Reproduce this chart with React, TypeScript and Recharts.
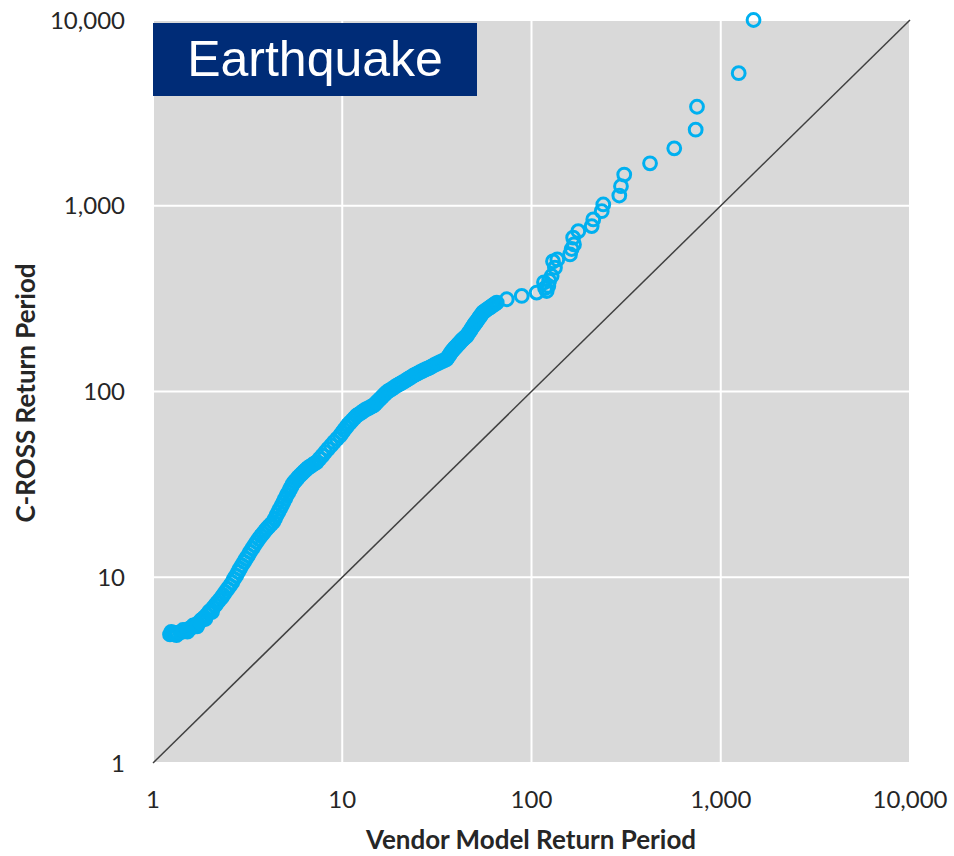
import React from "react";
import {
  CartesianGrid,
  Label,
  ReferenceLine,
  Scatter,
  ScatterChart,
  XAxis,
  YAxis,
} from "recharts";

const axisTicks = [1, 10, 100, 1000, 10000];

// [vendor model return period, C-ROSS return period]
const bandPoints: [number, number][] = [
  [1.23, 4.92], [1.26, 4.99], [1.29, 4.95], [1.32, 5.02], [1.35, 4.98], [1.39, 5.05],
  [1.42, 5.1], [1.46, 5.12], [1.5, 5.2], [1.54, 5.26], [1.57, 5.31], [1.61, 5.38],
  [1.65, 5.47], [1.69, 5.55], [1.73, 5.65], [1.77, 5.78], [1.82, 5.93], [1.87, 6.08],
  [1.92, 6.25], [1.97, 6.45], [2.02, 6.62], [2.07, 6.83], [2.13, 7.05], [2.18, 7.28],
  [2.24, 7.52], [2.3, 7.76], [2.35, 8.01], [2.41, 8.32], [2.48, 8.66], [2.55, 9.0],
  [2.62, 9.37], [2.68, 9.8], [2.75, 10.2], [2.82, 10.7], [2.88, 11.14], [2.95, 11.6],
  [3.03, 12.1], [3.1, 12.6], [3.18, 13.1], [3.26, 13.7], [3.35, 14.3], [3.44, 14.9],
  [3.53, 15.5], [3.62, 16.1], [3.72, 16.7], [3.81, 17.2], [3.91, 17.8], [4.0, 18.3],
  [4.1, 18.8], [4.21, 19.3], [4.32, 19.85], [4.41, 20.7], [4.5, 21.6], [4.6, 22.5],
  [4.69, 23.4], [4.79, 24.4], [4.89, 25.4], [4.99, 26.5], [5.09, 27.6], [5.19, 28.6],
  [5.29, 29.7], [5.39, 30.8], [5.49, 31.9], [5.61, 32.8], [5.73, 33.6], [5.85, 34.5],
  [5.98, 35.3], [6.13, 36.2], [6.28, 37.1], [6.43, 37.9], [6.59, 38.8], [6.77, 39.5],
  [6.95, 40.2], [7.14, 41.0], [7.33, 41.7], [7.58, 43.4], [7.85, 45.2], [8.12, 47.1],
  [8.41, 49.1], [8.72, 51.2], [9.04, 53.4], [9.38, 55.6], [9.73, 57.9], [9.97, 59.9],
  [10.22, 61.9], [10.47, 64.0], [10.72, 66.1], [11.0, 68.0], [11.3, 70.0], [11.6, 72.0],
  [11.92, 74.1], [12.2, 75.4], [12.55, 76.8], [12.85, 78.2], [13.19, 79.6], [13.5, 80.6],
  [13.85, 81.7], [14.2, 82.8], [14.6, 83.9], [14.9, 85.6], [15.2, 87.4], [15.5, 89.2],
  [15.83, 91.1], [16.2, 93.1], [16.5, 95.2], [16.9, 97.3], [17.24, 99.4], [17.75, 101.4],
  [18.3, 103.4], [18.85, 105.4], [19.4, 107.5], [19.9, 109.1], [20.4, 110.7], [20.9, 112.3],
  [21.46, 113.9], [22.0, 115.8], [22.5, 117.7], [23.1, 119.6], [23.7, 121.6], [24.3, 123.3],
  [25.0, 125.1], [25.7, 127.0], [26.4, 128.8], [27.0, 130.3], [27.7, 131.8], [28.4, 133.3],
  [29.1, 134.9], [29.8, 136.7], [30.5, 138.5], [31.3, 140.3], [32.1, 142.2], [32.9, 143.9],
  [33.8, 145.7], [34.7, 147.5], [35.6, 149.4], [36.2, 153], [36.8, 157], [37.4, 161],
  [38.0, 165], [38.6, 167.7], [39.1, 170.5], [39.7, 173.3], [40.3, 176.2], [40.9, 179.2],
  [41.6, 182.3], [42.2, 185.6], [42.9, 189], [43.5, 191.5], [44.2, 194.1], [44.8, 196.7],
  [45.5, 199.3], [46.4, 205.6], [47.4, 212.1], [48.3, 218.8], [49.3, 225.6], [50.0, 230.3],
  [50.7, 235.1], [51.5, 240], [52.2, 245], [53.0, 250.4], [53.8, 255.8], [54.6, 261.4],
  [55.4, 267], [56.6, 271.1], [57.8, 275.4], [59.1, 279.7], [60.4, 284], [61.6, 288.1],
  [62.9, 292.3], [64.2, 296.6], [65.5, 301],
];

// a few points just off the band at its low end, where it is widest
const bandSpread: [number, number][] = [
  [1.25, 5.08], [1.33, 4.88], [1.44, 5.2], [1.52, 5.1], [1.63, 5.5], [1.71, 5.44],
  [1.8, 5.88], [1.89, 5.96], [1.99, 6.55], [2.05, 6.5],
];

const tailPoints: [number, number][] = [
  [74, 313.8], [88.8, 327], [106.5, 341], [116.4, 387], [118, 360], [120.3, 347.6],
  [122.7, 370], [124, 395], [127.8, 418.6], [133, 464], [129.9, 502], [136.9, 514],
  [159.8, 547], [163, 585], [167.7, 619], [166, 673], [176.7, 730], [208, 777],
  [212, 844], [235, 935], [239.5, 1016], [291, 1135], [297, 1274], [309, 1472],
  [423, 1692], [568, 2037], [737, 2567], [749, 3411], [1244, 5173], [1490, 10000],
];

const scatterData = [...bandPoints, ...bandSpread, ...tailPoints].map(([vendor, cross]) => ({
  vendor,
  cross,
}));

const tickStyle = { fontFamily: "Lato, sans-serif", fontSize: 24, fill: "#262626" };
const titleStyle = { fontFamily: "Lato, sans-serif", fontSize: 26, fontWeight: 700, fill: "#262626" };

const RingDot = (props: any) => (
  <circle cx={props.cx} cy={props.cy} r={6.4} fill="none" stroke="#00B0F0" strokeWidth={3} />
);

export default function App() {
  return (
    <div style={{ position: "absolute", left: 0, top: 0, width: 954, height: 856, background: "#fff" }}>
      <ScatterChart width={954} height={856} margin={{ top: 20, right: 44, bottom: 0, left: 0 }}>
        <CartesianGrid fill="#d9d9d9" stroke="#ffffff" strokeWidth={2} />
        <XAxis
          type="number"
          dataKey="vendor"
          scale="log"
          domain={[1, 10000]}
          ticks={axisTicks}
          tickFormatter={(v: number) => v.toLocaleString("en-US")}
          tick={tickStyle}
          tickLine={false}
          axisLine={false}
          tickMargin={22}
          height={93}
        >
          <Label
            content={() => (
              <text x={531} y={849} textAnchor="middle" style={titleStyle}>
                Vendor Model Return Period
              </text>
            )}
          />
        </XAxis>
        <YAxis
          type="number"
          dataKey="cross"
          scale="log"
          domain={[1, 10000]}
          ticks={axisTicks}
          tickFormatter={(v: number) => v.toLocaleString("en-US")}
          tick={tickStyle}
          tickLine={false}
          axisLine={false}
          tickMargin={22}
          width={153}
        >
          <Label
            content={() => (
              <text
                x={25}
                y={393}
                transform="rotate(-90 25 393)"
                textAnchor="middle"
                dominantBaseline="central"
                style={titleStyle}
              >
                C-ROSS Return Period
              </text>
            )}
          />
        </YAxis>
        <ReferenceLine
          segment={[
            { x: 1, y: 1 },
            { x: 10000, y: 10000 },
          ]}
          stroke="#404040"
          strokeWidth={1.5}
        />
        <Scatter data={scatterData} shape={RingDot} isAnimationActive={false} />
      </ScatterChart>
      <div
        style={{
          position: "absolute",
          left: 153,
          top: 23,
          width: 324,
          height: 73,
          background: "#002C77",
          color: "#fff",
          fontFamily: "'Liberation Sans', Arial, sans-serif",
          fontSize: 50,
          lineHeight: "73px",
          textAlign: "center",
        }}
      >
        Earthquake
      </div>
    </div>
  );
}
